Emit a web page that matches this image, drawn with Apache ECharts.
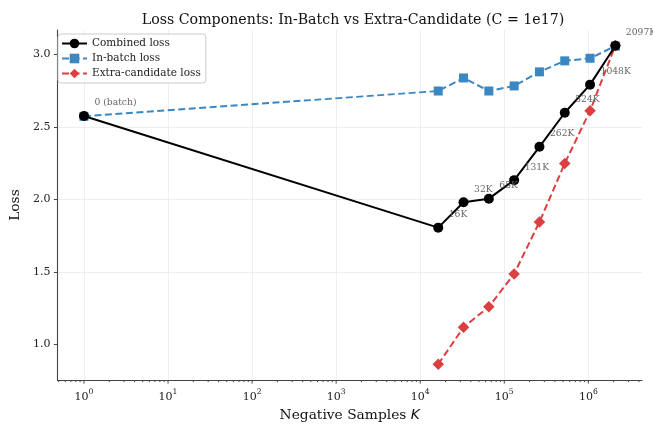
<!DOCTYPE html>
<html><head><meta charset="utf-8">
<script src="https://cdn.jsdelivr.net/npm/echarts@6/dist/echarts.min.js"></script>
<style>html,body{margin:0;padding:0;background:#fff}#c{width:653px;height:427px}</style>
</head><body><div id="c"></div>
<script>
// ---- data ----
const kValues = [1, 16384, 32768, 65536, 131072, 262144, 524288, 1048576, 2097152];
const pointLabels = ['0 (batch)', '16K', '32K', '65K', '131K', '262K', '524K', '1048K', '2097K'];
const combinedLoss = [2.575, 1.805, 1.980, 2.005, 2.133, 2.363, 2.598, 2.792, 3.060];
const inBatchLoss = [2.573, 2.748, 2.838, 2.748, 2.783, 2.880, 2.956, 2.974, 3.058];
const extraK = [16384, 32768, 65536, 131072, 262144, 524288, 1048576, 2097152];
const extraLoss = [0.862, 1.118, 1.259, 1.486, 1.844, 2.248, 2.612, 3.062];
const yTicks = [1.0, 1.5, 2.0, 2.5, 3.0];
const xMajorTicks = [1, 10, 100, 1000, 10000, 100000, 1000000];
const xMinorMultipliers = [2, 3, 4, 5, 6, 7, 8, 9];
const xMinorDecades = [0.1, 1, 10, 100, 1000, 10000, 100000, 1000000];

const xMin = 0.483, xMax = 4.35e6, yMin = 0.753, yMax = 3.169;
const SERIF = 'DejaVu Serif';

const tickData = [];
xMajorTicks.forEach(v => tickData.push([v, yMin, 1]));
xMinorDecades.forEach(d => xMinorMultipliers.forEach(m => {
  const v = m * d;
  if (v > xMin && v < xMax) tickData.push([v, yMin, 0]);
}));

const BLUE = '#3a87c2', RED = '#dc3f3f';

const chart = echarts.init(document.getElementById('c'), null, {renderer: 'canvas'});
chart.setOption({
  animation: false,
  backgroundColor: '#fff',
  title: {
    text: 'Loss Components: In-Batch vs Extra-Candidate (C = 1e17)',
    left: 348, top: 8, textAlign: 'center',
    textStyle: {fontFamily: SERIF, fontSize: 14.2, fontWeight: 'normal', color: '#111'}
  },
  legend: {
    orient: 'vertical', left: 58, top: 34,
    padding: [4, 5, 4, 3], itemGap: 4, itemWidth: 25, itemHeight: 12,
    backgroundColor: 'rgba(255,255,255,0.85)', borderColor: '#cccccc', borderWidth: 1, borderRadius: 3,
    textStyle: {fontFamily: SERIF, fontSize: 10.5, color: '#222'},
    data: ['Combined loss', 'In-batch loss', 'Extra-candidate loss']
  },
  grid: {left: 54, right: 11, top: 30, bottom: 40, containLabel: false},
  xAxis: {
    type: 'log', logBase: 10, min: xMin, max: xMax,
    name: 'Negative Samples {i|K}', nameLocation: 'middle', nameGap: 24,
    nameTextStyle: {fontFamily: SERIF, fontSize: 13.8, color: '#111',
      rich: {i: {fontFamily: 'DejaVu Sans', fontStyle: 'italic', fontSize: 13.8, color: '#111'}}},
    axisLine: {show: true, lineStyle: {color: '#444', width: 1.1}},
    axisTick: {show: false},
    axisLabel: {
      margin: 8, color: '#222',
      formatter: v => {
        const e = Math.log10(v), r = Math.round(e);
        if (Math.abs(e - r) > 1e-6) return '';
        return '{b|10}{s|' + r + '}';
      },
      rich: {
        b: {fontFamily: SERIF, fontSize: 11, color: '#222', verticalAlign: 'bottom', lineHeight: 15},
        s: {fontFamily: SERIF, fontSize: 7.7, color: '#222', verticalAlign: 'top', lineHeight: 10}
      }
    },
    splitLine: {show: true, showMinLine: false, showMaxLine: false, lineStyle: {color: '#ebebeb', width: 0.8}}
  },
  yAxis: {
    type: 'value', min: yMin, max: yMax,
    name: 'Loss', nameLocation: 'middle', nameGap: 33,
    nameTextStyle: {fontFamily: SERIF, fontSize: 13.8, color: '#111'},
    axisLine: {show: true, lineStyle: {color: '#444', width: 1.1}},
    axisTick: {show: true, length: 3.5, customValues: yTicks, lineStyle: {color: '#444'}},
    axisLabel: {margin: 7, customValues: yTicks, fontFamily: SERIF, fontSize: 11, color: '#222',
      formatter: v => v.toFixed(1)},
    splitLine: {show: true, showMinLine: false, showMaxLine: false, lineStyle: {color: '#ebebeb', width: 0.8}}
  },
  series: [
    {
      name: 'Combined loss', type: 'line', z: 5,
      data: kValues.map((k, i) => [k, combinedLoss[i]]),
      symbol: 'circle', symbolSize: 10,
      lineStyle: {color: '#000', width: 2},
      itemStyle: {color: '#000'},
      label: {
        show: true, position: 'right', distance: 0, offset: [5.5, -13],
        formatter: p => pointLabels[p.dataIndex],
        fontFamily: SERIF, fontSize: 9.2, color: '#666'
      }
    },
    {
      name: 'In-batch loss', type: 'line', z: 3,
      data: kValues.map((k, i) => [k, inBatchLoss[i]]),
      symbol: 'rect', symbolSize: 9,
      lineStyle: {color: BLUE, width: 2, type: [7, 3.5]},
      itemStyle: {color: BLUE}
    },
    {
      name: 'Extra-candidate loss', type: 'line', z: 4,
      data: extraK.map((k, i) => [k, extraLoss[i]]),
      symbol: 'diamond', symbolSize: 11.5,
      lineStyle: {color: RED, width: 2, type: [7, 3.5]},
      itemStyle: {color: RED}
    },
    {
      name: 'xticks', type: 'custom', silent: true, clip: false, z: 10,
      data: tickData,
      renderItem: (params, api) => {
        const p = api.coord([api.value(0), api.value(1)]);
        const len = api.value(2) ? 3.5 : 2;
        return {type: 'line', shape: {x1: p[0], y1: p[1], x2: p[0], y2: p[1] + len},
          style: {stroke: '#444', lineWidth: 1}};
      }
    }
  ]
});
</script>
</body></html>
